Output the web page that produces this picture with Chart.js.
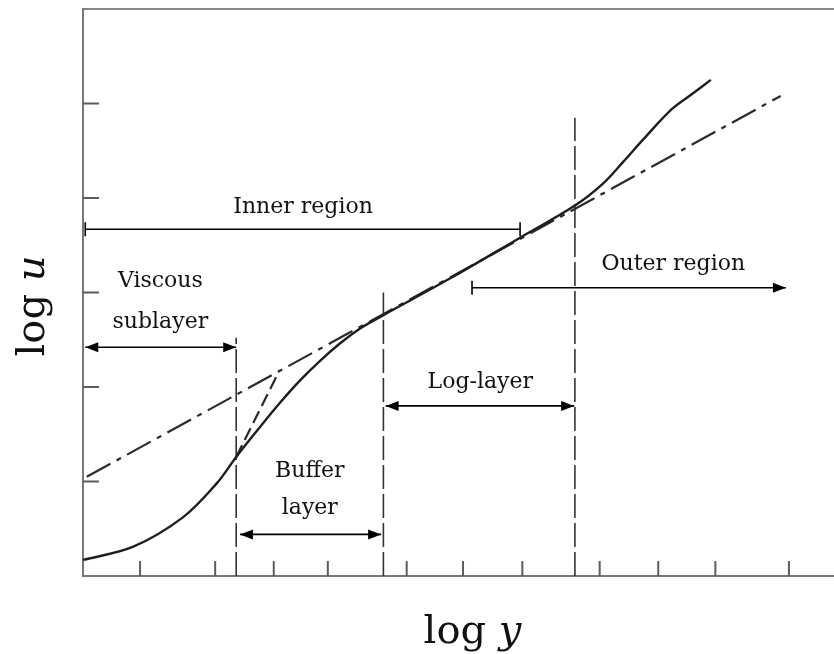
<!DOCTYPE html>
<html>
<head>
<meta charset="utf-8">
<script src="https://cdn.jsdelivr.net/npm/chart.js@4.4.1/dist/chart.umd.min.js"></script>
<style>
  html, body { margin: 0; padding: 0; background: #fff; }
  canvas { display: block; }
</style>
</head>
<body>
<canvas id="wallChart" width="834" height="654"></canvas>
<script>
// velocity profile (log y, log u in axis units)
const profileLogY = [0, 0.67, 1.33, 1.78, 2.04, 2.33, 2.62, 2.89, 3.16, 3.42, 3.69, 4.0, 4.89, 5.82, 6.55, 6.92, 7.19, 7.46, 7.84, 8.11, 8.36];
const profileLogU = [0.17, 0.31, 0.62, 0.98, 1.26, 1.55, 1.83, 2.07, 2.28, 2.46, 2.62, 2.76, 3.15, 3.58, 3.92, 4.15, 4.38, 4.62, 4.94, 5.1, 5.25];

// log law (dash-dot)
const logLawY = [0.05, 9.29];
const logLawU = [1.05, 5.08];

// linear viscous law (dashed)
const linearLawY = [2.04, 2.62];
const linearLawU = [1.26, 2.18];

// vertical layer boundaries and their top ends
const boundaryY = [2.04, 4.0, 6.55];
const boundaryTop = [2.52, 3.0, 4.85];

// tick marks (no labels)
const xTickValues = [0.76, 1.76, 2.54, 3.26, 4.31, 5.06, 5.85, 6.88, 7.66, 8.42, 9.4];
const yTickValues = [1, 2, 3, 4, 5];

// region spans: from, to, level, end styles
const spans = [
  { from: 0.03, to: 5.82, at: 3.67, start: 'bar', end: 'bar' },
  { from: 0.03, to: 2.04, at: 2.42, start: 'arrow', end: 'arrow' },
  { from: 2.09, to: 3.97, at: 0.44, start: 'arrow', end: 'arrow' },
  { from: 4.03, to: 6.54, at: 1.8, start: 'arrow', end: 'arrow' },
  { from: 5.18, to: 9.36, at: 3.05, start: 'bar', end: 'arrow' }
];
const labels = [
  { text: 'Inner region', x: 2.93, y: 3.9 },
  { text: 'Viscous', x: 1.03, y: 3.12 },
  { text: 'sublayer', x: 1.03, y: 2.68 },
  { text: 'Buffer', x: 3.02, y: 1.11 },
  { text: 'layer', x: 3.02, y: 0.72 },
  { text: 'Log-layer', x: 5.29, y: 2.05 },
  { text: 'Outer region', x: 7.86, y: 3.3 }
];

const toPoints = (xs, ys) => xs.map((v, i) => ({ x: v, y: ys[i] }));

const datasets = [
  {
    data: toPoints(profileLogY, profileLogU),
    borderColor: '#1e1e1e', borderWidth: 2.4,
    tension: 0.35
  },
  {
    data: toPoints(logLawY, logLawU),
    borderColor: '#2a2a2a', borderWidth: 2.2,
    borderDash: [27, 7, 5, 7]
  },
  {
    data: toPoints(linearLawY, linearLawU),
    borderColor: '#2a2a2a', borderWidth: 2.2,
    borderDash: [13, 6]
  }
];
boundaryY.forEach((v, i) => {
  datasets.push({
    data: [{ x: v, y: 0 }, { x: v, y: boundaryTop[i] }],
    borderColor: '#333', borderWidth: 1.6,
    borderDash: [24, 5]
  });
});

const serif = '"DejaVu Serif", "Liberation Serif", serif';

function arrowHead(ctx, px, py, dir) {
  ctx.beginPath();
  ctx.moveTo(px, py);
  ctx.lineTo(px - dir * 13, py - 5);
  ctx.lineTo(px - dir * 13, py + 5);
  ctx.closePath();
  ctx.fill();
}

const overlay = {
  id: 'overlay',
  afterDatasetsDraw(chart) {
    const { ctx, chartArea, scales: { x, y } } = chart;
    ctx.save();

    // inward tick marks
    ctx.strokeStyle = '#5c5c5c';
    ctx.lineWidth = 2;
    ctx.beginPath();
    xTickValues.forEach(v => {
      const px = x.getPixelForValue(v);
      ctx.moveTo(px, chartArea.bottom);
      ctx.lineTo(px, chartArea.bottom - 15);
    });
    yTickValues.forEach(v => {
      const py = y.getPixelForValue(v);
      ctx.moveTo(chartArea.left, py);
      ctx.lineTo(chartArea.left + 16, py);
    });
    ctx.stroke();

    // spans with arrows / bars
    ctx.strokeStyle = '#000';
    ctx.fillStyle = '#000';
    ctx.lineWidth = 1.6;
    spans.forEach(s => {
      const x1 = x.getPixelForValue(s.from);
      const x2 = x.getPixelForValue(s.to);
      const py = y.getPixelForValue(s.at);
      ctx.beginPath();
      ctx.moveTo(x1, py);
      ctx.lineTo(x2, py);
      if (s.start === 'bar') { ctx.moveTo(x1, py - 7); ctx.lineTo(x1, py + 7); }
      if (s.end === 'bar') { ctx.moveTo(x2, py - 7); ctx.lineTo(x2, py + 7); }
      ctx.stroke();
      if (s.start === 'arrow') arrowHead(ctx, x1, py, -1);
      if (s.end === 'arrow') arrowHead(ctx, x2, py, 1);
    });

    // region labels
    ctx.font = '22px ' + serif;
    ctx.textAlign = 'center';
    ctx.textBaseline = 'middle';
    ctx.fillStyle = '#111';
    labels.forEach(l => {
      ctx.fillText(l.text, x.getPixelForValue(l.x), y.getPixelForValue(l.y));
    });

    // axis titles: "log" upright, variable in italic
    const title = (plain, italic, cx, cy, angle) => {
      ctx.save();
      ctx.translate(cx, cy);
      ctx.rotate(angle);
      ctx.textAlign = 'left';
      ctx.textBaseline = 'alphabetic';
      ctx.font = '40px ' + serif;
      const w1 = ctx.measureText(plain).width;
      ctx.font = 'italic 40px ' + serif;
      const w2 = ctx.measureText(italic).width;
      const start = -(w1 + w2) / 2;
      ctx.font = '40px ' + serif;
      ctx.fillText(plain, start, 0);
      ctx.font = 'italic 40px ' + serif;
      ctx.fillText(italic, start + w1, 0);
      ctx.restore();
    };
    title('log ', 'y', (chartArea.left + 780) / 2 + 41, chartArea.bottom + 67, 0);
    title('log ', 'u', 44, 306, -Math.PI / 2);

    ctx.restore();
  }
};

new Chart(document.getElementById('wallChart'), {
  type: 'line',
  data: { datasets },
  options: {
    responsive: false,
    animation: false,
    devicePixelRatio: 1,
    layout: { padding: { left: 83, top: 9, right: 0, bottom: 78 } },
    elements: { point: { radius: 0 }, line: { fill: false } },
    plugins: { legend: { display: false }, tooltip: { enabled: false } },
    scales: {
      x: {
        type: 'linear', min: 0, max: 10,
        ticks: { display: false },
        grid: { display: false, drawTicks: false },
        border: { display: true, color: '#777', width: 2 }
      },
      xTop: {
        type: 'linear', position: 'top', min: 0, max: 10,
        ticks: { display: false },
        grid: { display: false, drawTicks: false },
        border: { display: true, color: '#888', width: 2 }
      },
      y: {
        type: 'linear', min: 0, max: 6,
        ticks: { display: false },
        grid: { display: false, drawTicks: false },
        border: { display: true, color: '#777', width: 2 }
      }
    }
  },
  plugins: [overlay]
});
</script>
</body>
</html>
